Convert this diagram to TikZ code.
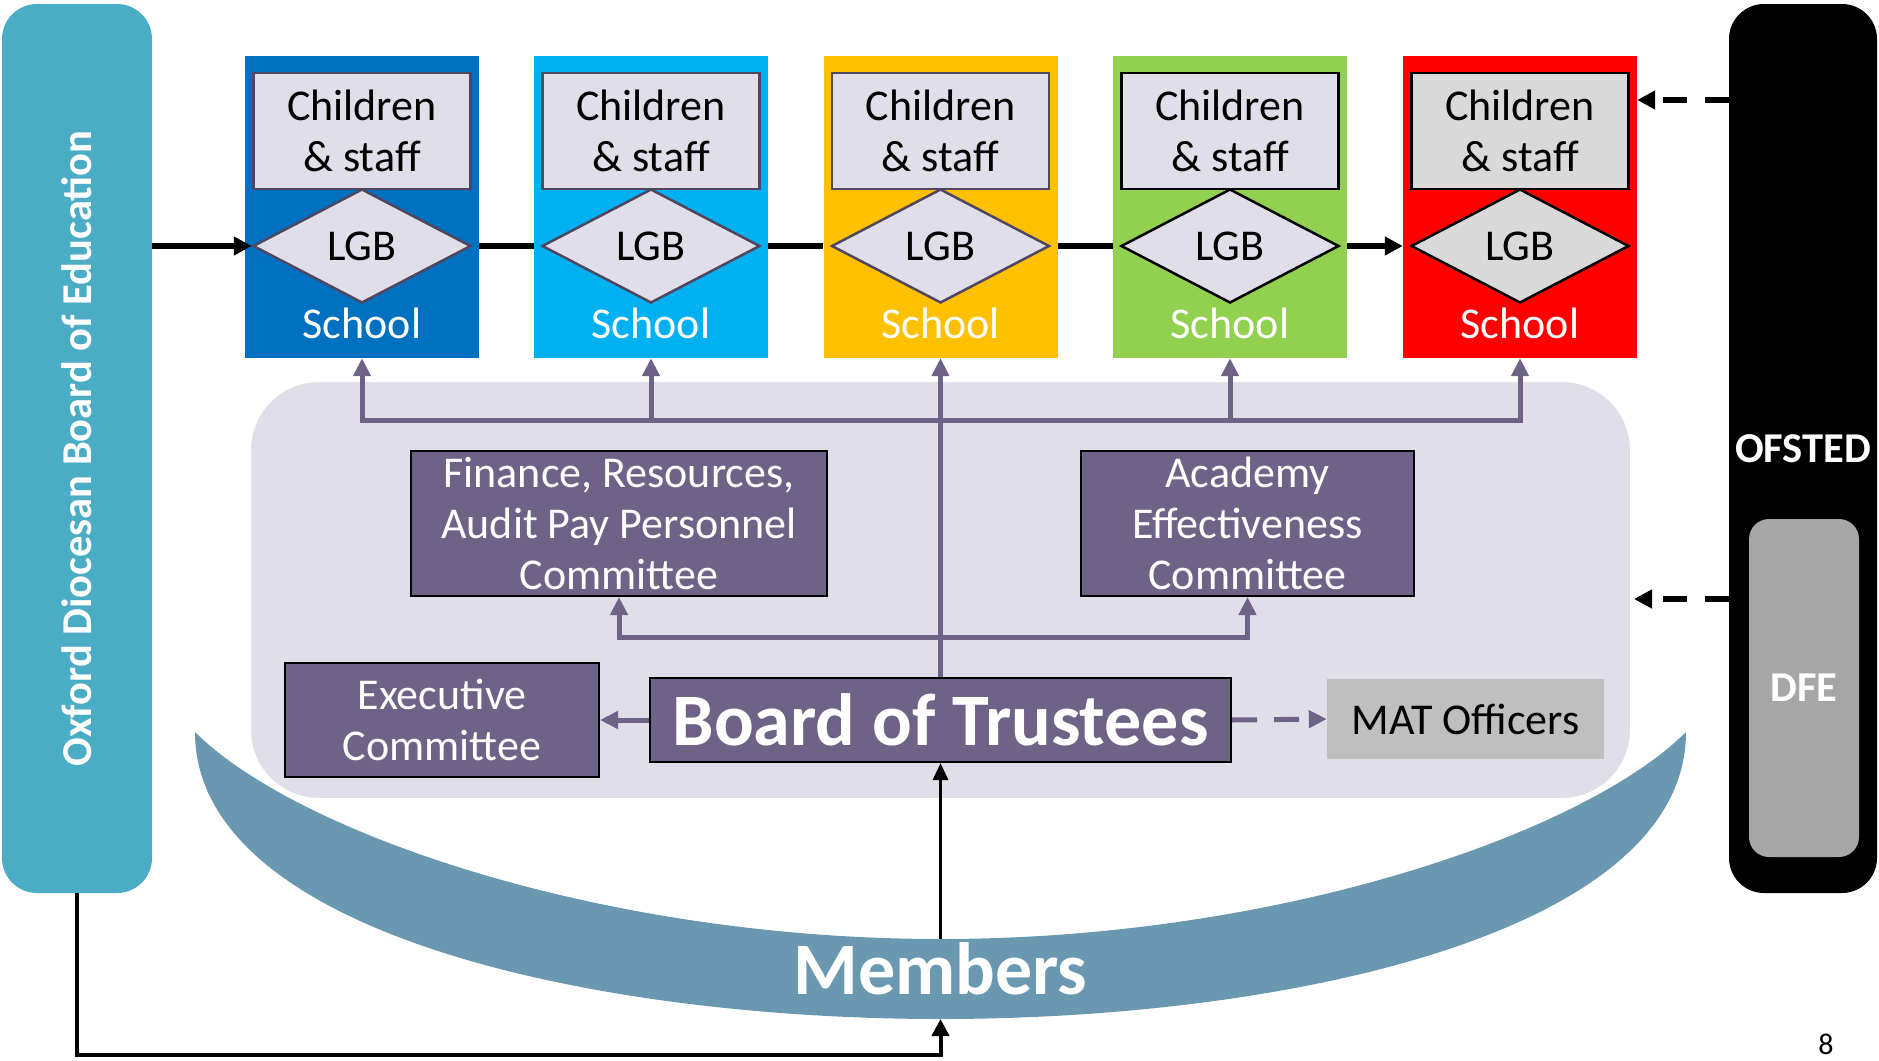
\documentclass[tikz,border=0pt]{standalone}
\usepackage{fontspec}
\setmainfont{Carlito}
\usepackage{tikz}
\usetikzlibrary{arrows.meta,shapes,positioning}
\definecolor{oxfordteal}{RGB}{75,172,198}
\definecolor{trustpurple}{RGB}{110,98,135}
\definecolor{trustlavender}{RGB}{224,222,233}
\definecolor{lgbedge}{RGB}{80,70,96}
\definecolor{membersblue}{RGB}{105,152,176}
\definecolor{matgrey}{RGB}{191,191,191}
\definecolor{dfegrey}{RGB}{166,166,166}
\definecolor{redfill}{RGB}{217,217,217}
\definecolor{schoolA}{RGB}{0,112,192}
\definecolor{schoolB}{RGB}{0,176,240}
\definecolor{schoolC}{RGB}{255,192,0}
\definecolor{schoolD}{RGB}{146,208,80}
\definecolor{schoolE}{RGB}{255,0,0}
\newcommand{\boxfont}{\fontsize{44}{51}\selectfont}
\newcommand{\sidefont}{\bfseries\fontsize{42.5}{48}\selectfont}
\newcommand{\bigfont}{\bfseries\fontsize{74}{80}\selectfont}
\tikzstyle{blackline} = [line width=6pt, color=black]
\tikzstyle{blackarrow} = [blackline, ->, >={Triangle[length=18pt,width=18pt]}]
\tikzstyle{ofstedarrow} = [blackarrow, dash pattern=on 24pt off 18pt]
\tikzstyle{purplearrow} = [line width=5pt, ->, >={Triangle[length=18pt,width=17pt]}, color=trustpurple]
\tikzstyle{purpledash} = [purplearrow, dash pattern=on 25pt off 17pt]
\tikzstyle{memberarrow} = [line width=3pt, ->, >={Triangle[length=17pt,width=15pt]}, color=black]
\tikzstyle{oxfordarrow} = [line width=4pt, ->, >={Triangle[length=17pt,width=17pt]}, color=black]
\tikzstyle{sidebar} = [rectangle, rounded corners=35pt, minimum width=150pt, minimum height=889pt, inner sep=0pt, text=white, font=\sidefont]
\tikzstyle{schoolbox} = [rectangle, minimum width=234pt, minimum height=302pt, inner sep=0pt]
\tikzstyle{staffbox} = [rectangle, line width=2.5pt, minimum width=217pt, minimum height=116pt, inner sep=0pt, align=center, font=\boxfont]
\tikzstyle{lgbbox} = [diamond, line width=2.5pt, minimum width=218pt, minimum height=114pt, inner sep=0pt, font=\boxfont]
\tikzstyle{schoolname} = [text=white, inner sep=0pt, font=\boxfont]
\tikzstyle{committee} = [rectangle, draw=black, line width=2pt, fill=trustpurple, inner sep=0pt, text=white, align=center, font=\boxfont]

\begin{document}
\begin{tikzpicture}[x=1pt,y=-1pt]
\useasboundingbox (0,0) rectangle (1879,1060);

\fill[membersblue] (195,732) .. controls (195,932) and (590.5,1019) .. (940.5,1019) .. controls (1290.5,1019) and (1686,932) .. (1686,732) .. controls (1586,832) and (1281,939) .. (940.5,939) .. controls (600,939) and (295,832) .. (195,732) -- cycle;
\node[rectangle, rounded corners=70pt, fill=trustlavender, draw=white, line width=4pt, minimum width=1383pt, minimum height=420pt] (trustarea) at (940.5,590) {};
\coordinate (membersinner) at (940.5,939);
\coordinate (membersouter) at (940.5,1019);
\node[text=white, font=\bigfont, inner sep=0pt] (members) at (940.5,969) {Members};

\node[sidebar, fill=oxfordteal] (oxford) at (77,448.5) {\rotatebox{90}{Oxford Diocesan Board of Education}};
\node[sidebar, fill=black, minimum width=148pt] (ofsted) at (1803,448.5) {OFSTED};
\node[rectangle, rounded corners=20pt, fill=dfegrey, minimum width=110pt, minimum height=338pt, text=white, font=\sidefont] (dfe) at (1804,688) {DFE};

\foreach \i/\x/\col/\fillc/\edgec in {1/362/schoolA/trustlavender/lgbedge, 2/651/schoolB/trustlavender/lgbedge, 3/940.5/schoolC/trustlavender/lgbedge, 4/1230/schoolD/trustlavender/black, 5/1520/schoolE/redfill/black}
{
  \node[schoolbox, fill=\col] (school\i) at (\x,207) {};
  \node[staffbox, fill=\fillc, draw=\edgec] (staff\i) at (\x,131) {Children\\\& staff};
  \node[lgbbox, fill=\fillc, draw=\edgec] (lgb\i) at (\x,246) {LGB};
  \node[schoolname] (name\i) at (\x,323) {School};
}

\draw[blackarrow] (oxford.east |- lgb1.west) -- (lgb1.west);
\foreach \i/\j in {1/2,2/3,3/4}
  \draw[blackline] (school\i.east |- lgb\i.east) -- (school\j.west |- lgb\j.west);
\draw[blackarrow] (school4.east |- lgb4.east) -- (school5.west |- lgb5.west);

\node[committee, minimum width=416pt, minimum height=145pt] (finance) at (619,523.5) {Finance, Resources,\\Audit Pay Personnel\\Committee};
\node[committee, minimum width=333pt, minimum height=145pt] (academy) at (1247.5,523.5) {Academy\\Effectiveness\\Committee};
\node[committee, minimum width=314pt, minimum height=114pt] (executive) at (442,720) {Executive\\Committee};
\node[committee, minimum width=581pt, minimum height=84pt, font=\bigfont] (trustees) at (940.5,720) {Board of Trustees};
\node[rectangle, fill=matgrey, minimum width=277pt, minimum height=80pt, inner sep=0pt, font=\boxfont] (mat) at (1465.5,719) {MAT Officers};

\draw[purplearrow, <->] (school1.south) -- (school1.south |- 0,420) -- (school5.south |- 0,420) -- (school5.south);
\foreach \i in {2,4}
  \draw[purplearrow] (school\i.south |- 0,420) -- (school\i.south);
\draw[purplearrow] (trustees.north) -- (school3.south);
\draw[purplearrow, <->] (finance.south) -- (finance.south |- 0,637) -- (academy.south |- 0,637) -- (academy.south);
\draw[purplearrow] (trustees.west) -- (executive.east);
\draw[purpledash] (trustees.east) -- (mat.west);

\draw[memberarrow] (membersinner) -- (trustees.south);
\draw[oxfordarrow] (oxford.south) -- (oxford.south |- 0,1055) -| (membersouter);

\draw[ofstedarrow] (ofsted.west |- 0,100) -- (school5.east |- 0,100);
\draw[ofstedarrow] (ofsted.west |- 0,599) -- (trustarea.east |- 0,599);

\node[font=\fontsize{30}{36}\selectfont, inner sep=0pt] (pagenum) at (1826,1044) {8};
\end{tikzpicture}
\end{document}
